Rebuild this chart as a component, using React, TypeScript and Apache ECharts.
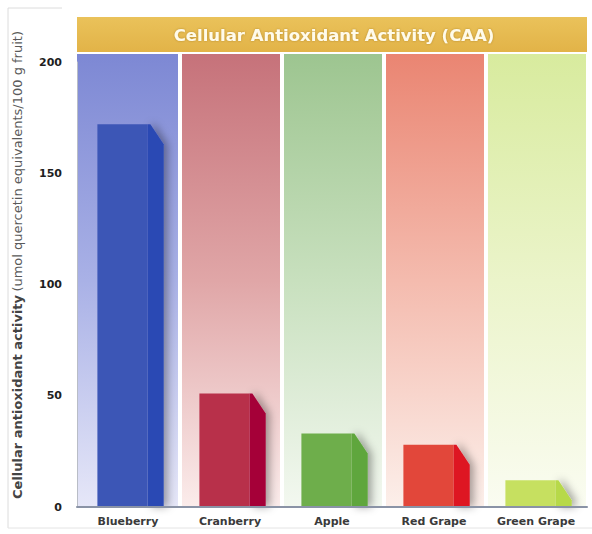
import React, { useEffect, useRef } from "react";
import * as echarts from "echarts";

// Fruit categories and their cellular antioxidant activity (µmol QE / 100 g)
const categories = ["Blueberry", "Cranberry", "Apple", "Red Grape", "Green Grape"];
const caaValues = [172, 51, 33, 28, 12];
const axisMax = 200;
const axisStep = 50;

// Palette per fruit: bar front, bar side, column top, column mid, column bottom
const frontColors = ["#3c56b6", "#b8304a", "#6eae4b", "#e2473a", "#c6e060"];
const sideColors = ["#2b49b4", "#a50639", "#5ea63c", "#de1320", "#b7d948"];
const columnTop = ["#7d88d4", "#c6727a", "#9dc590", "#ea8572", "#d8eb9e"];
const columnMid = ["#a9b1e6", "#e0a6a7", "#c8e0be", "#f4bbae", "#ebf4ca"];
const columnBottom = ["#e6e7f8", "#fbeceb", "#f3f8f0", "#fcefea", "#fafcf1"];

const chartTitle = "Cellular Antioxidant Activity (CAA)";

export default function App() {
  const ref = useRef<HTMLDivElement>(null);

  useEffect(() => {
    if (!ref.current) return;
    const chart = echarts.init(ref.current, null, { renderer: "svg" });

    const columnData = categories.map((_, i) => [i, axisMax]);
    const barData = categories.map((_, i) => [i, caaValues[i]]);

    chart.setOption({
      animation: false,
      backgroundColor: "#ffffff",
      grid: { left: 77, right: 5, top: 62, bottom: 27, containLabel: false },
      xAxis: {
        type: "category",
        data: categories,
        axisTick: { show: false },
        axisLine: { show: true, lineStyle: { color: "#8a93a6", width: 2 } },
        axisLabel: {
          margin: 9,
          color: "#3a3a3a",
          fontFamily: "DejaVu Sans",
          fontWeight: "bold",
          fontSize: 11,
        },
        z: 10,
      },
      yAxis: {
        type: "value",
        min: 0,
        max: axisMax,
        interval: axisStep,
        splitLine: { show: false },
        axisTick: { show: false },
        axisLine: { show: true, lineStyle: { color: "#b9bdc6", width: 1 } },
        axisLabel: {
          margin: 15,
          color: "#1e1e1e",
          fontFamily: "DejaVu Sans",
          fontWeight: "bold",
          fontSize: 11,
        },
        z: 10,
      },
      graphic: [
        // faint outer frame
        { type: "line", shape: { x1: 8, y1: 8, x2: 8, y2: 528 }, style: { stroke: "#dcdcdc", lineWidth: 1 } },
        { type: "line", shape: { x1: 8, y1: 8, x2: 62, y2: 8 }, style: { stroke: "#dcdcdc", lineWidth: 1 } },
        { type: "line", shape: { x1: 8, y1: 528, x2: 592, y2: 528 }, style: { stroke: "#e4e4e4", lineWidth: 1 } },
        // gold title band
        {
          type: "rect",
          shape: { x: 77, y: 17, width: 510, height: 35 },
          style: {
            fill: new echarts.graphic.LinearGradient(0, 0, 0, 1, [
              { offset: 0, color: "#eac25a" },
              { offset: 1, color: "#e2b348" },
            ]),
          },
        },
        {
          type: "text",
          x: 334,
          y: 35,
          style: {
            text: chartTitle,
            textAlign: "center",
            textVerticalAlign: "middle",
            fill: "#fffbea",
            font: "bold 16.5px 'DejaVu Sans'",
            textShadowColor: "rgba(120,80,0,0.45)",
            textShadowBlur: 2,
          },
        },
        // rotated y-axis title
        {
          type: "text",
          x: 17,
          y: 265,
          rotation: Math.PI / 2,
          style: {
            text: "{b|Cellular antioxidant activity} {n|(umol quercetin equivalents/100 g fruit)}",
            textAlign: "center",
            textVerticalAlign: "middle",
            rich: {
              b: { fontFamily: "DejaVu Sans", fontWeight: "bold", fontSize: 13, fill: "#444444" },
              n: { fontFamily: "DejaVu Sans", fontSize: 13, fill: "#5a5a5a" },
            },
          },
        },
      ],
      series: [
        {
          name: "columns",
          type: "custom",
          silent: true,
          z: 1,
          data: columnData,
          renderItem: (params: any, api: any) => {
            const i = api.value(0);
            const base = api.coord([i, 0]);
            const top = api.coord([i, api.value(1)]);
            const band = api.size([1, 0])[0];
            const x0 = base[0] - band / 2;
            const left = i === 0 ? x0 : x0 + 3;
            const y0 = top[1] - 8;
            return {
              type: "rect",
              shape: { x: left, y: y0, width: x0 + band - 1 - left, height: base[1] - y0 },
              style: {
                fill: new echarts.graphic.LinearGradient(0, 0, 0, 1, [
                  { offset: 0, color: columnTop[i] },
                  { offset: 0.5, color: columnMid[i] },
                  { offset: 1, color: columnBottom[i] },
                ]),
              },
            };
          },
        },
        {
          name: "CAA",
          type: "custom",
          z: 3,
          data: barData,
          renderItem: (params: any, api: any) => {
            const i = api.value(0);
            const v = api.value(1);
            const base = api.coord([i, 0]);
            const top = api.coord([i, v]);
            const band = api.size([1, 0])[0];
            const x0 = base[0] - band / 2;
            const fl = x0 + band * 0.2;
            const fr = x0 + band * 0.69;
            const sr = fr + band * 0.16;
            const bevel = Math.min(20, (base[1] - top[1]) * 0.75);
            return {
              type: "group",
              children: [
                {
                  type: "polygon",
                  shape: {
                    points: [
                      [fr, top[1]],
                      [fr + 3, top[1]],
                      [sr, top[1] + bevel],
                      [sr, base[1]],
                      [fr, base[1]],
                    ],
                  },
                  style: {
                    fill: sideColors[i],
                    shadowBlur: 8,
                    shadowColor: "rgba(0,0,0,0.35)",
                    shadowOffsetX: 4,
                    shadowOffsetY: 0,
                  },
                },
                {
                  type: "rect",
                  shape: { x: fl, y: top[1], width: fr - fl, height: base[1] - top[1] },
                  style: { fill: frontColors[i] },
                },
              ],
            };
          },
        },
      ],
    });

    return () => chart.dispose();
  }, []);

  return (
    <div
      ref={ref}
      style={{ position: "fixed", left: 0, top: 0, width: 592, height: 534 }}
    />
  );
}
